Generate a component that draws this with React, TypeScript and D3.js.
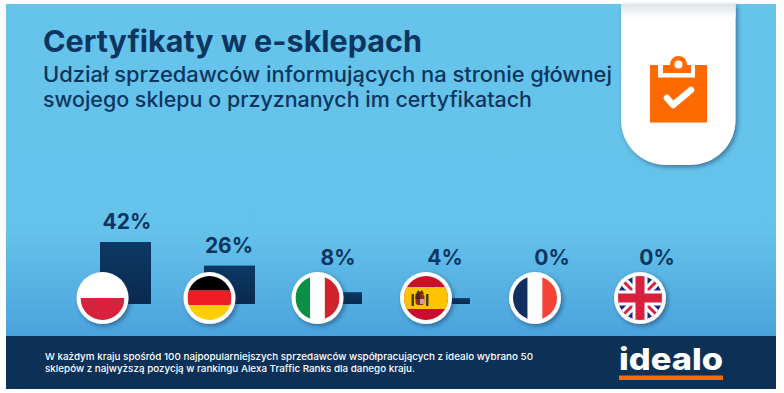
import React from "react";
import * as d3 from "d3";

const countries = ["Polska", "Niemcy", "Włochy", "Hiszpania", "Francja", "Wielka Brytania"];
const shares = [42, 26, 8, 4, 0, 0];
const valueLabels = ["42%", "26%", "8%", "4%", "0%", "0%"];
const title = "Certyfikaty w e-sklepach";
const subtitleLines = [
  "Udział sprzedawców informujących na stronie głównej",
  "swojego sklepu o przyznanych im certyfikatach",
];
const footnoteLines = [
  "W każdym kraju spośród 100 najpopularniejszych sprzedawców współpracujących z idealo wybrano 50",
  "sklepów z najwyższą pozycją w rankingu Alexa Traffic Ranks dla danego kraju.",
];
const brand = "idealo";

const NAVY = "#0c3660";
const FONT = "Inter, 'Open Sans', sans-serif";

const W = 784, H = 393;
const barBase = 304;
const barW = 51;
const R = 26;

const y = d3.scaleLinear().domain([0, 42]).range([barBase, 242]);
const barX = d3.scaleOrdinal<string, number>().domain(countries).range([100, 204, 311, 419, 523, 627]);
const flagX = d3.scaleOrdinal<string, number>().domain(countries).range([102.5, 209.5, 317.5, 426, 535, 640]);
const labelX = d3.scaleOrdinal<string, number>().domain(countries).range([127, 229, 338, 445, 552, 657]);
const flagY = 298;
const lowestLabelBaseline = 265;

function Flag({ name, cx }: { name: string; cx: number }) {
  const r = 22;
  const x0 = cx - r, y0 = flagY - r, s = r * 2;
  const id = "clip" + countries.indexOf(name);
  let content: React.ReactNode = null;
  if (name === "Polska") {
    content = (<>
      <rect x={x0} y={y0} width={s} height={s} fill="#ffffff" />
      <rect x={x0} y={flagY} width={s} height={r} fill="#d8213c" />
    </>);
  } else if (name === "Niemcy") {
    content = (<>
      <rect x={x0} y={y0} width={s} height={s / 3} fill="#000000" />
      <rect x={x0} y={y0 + s / 3} width={s} height={s / 3} fill="#ee1c25" />
      <rect x={x0} y={y0 + 2 * s / 3} width={s} height={s / 3} fill="#ffce00" />
    </>);
  } else if (name === "Włochy") {
    content = (<>
      <rect x={x0} y={y0} width={s / 3} height={s} fill="#0b8f47" />
      <rect x={x0 + s / 3} y={y0} width={s / 3} height={s} fill="#ffffff" />
      <rect x={x0 + 2 * s / 3} y={y0} width={s / 3} height={s} fill="#d2232c" />
    </>);
  } else if (name === "Hiszpania") {
    content = (<>
      <rect x={x0} y={y0} width={s} height={s} fill="#c8102e" />
      <rect x={x0} y={y0 + s / 4} width={s} height={s / 2} fill="#ffc400" />
      <g transform={`translate(${cx - 6},${flagY + 2})`}>
        <rect x={-4.5} y={-6} width={9} height={11} rx={3} fill="#8f2a22" />
        <rect x={-4.5} y={-6} width={4.5} height={5} fill="#4a2410" />
        <rect x={0} y={-1} width={4.5} height={5} fill="#c9a0a0" />
        <path d="M-4,-6 L-2,-10 L0,-8 L2,-10 L4,-6 Z" fill="#5a3010" />
        <rect x={-8.5} y={-6} width={2.5} height={12} fill="#4a3a1a" />
        <rect x={6} y={-6} width={2.5} height={12} fill="#4a3a1a" />
      </g>
    </>);
  } else if (name === "Francja") {
    content = (<>
      <rect x={x0} y={y0} width={s / 3} height={s} fill="#10305f" />
      <rect x={x0 + s / 3} y={y0} width={s / 3} height={s} fill="#ffffff" />
      <rect x={x0 + 2 * s / 3} y={y0} width={s / 3} height={s} fill="#f44336" />
    </>);
  } else {
    content = (<>
      <rect x={x0} y={y0} width={s} height={s} fill="#15288a" />
      <path d={`M${x0},${y0}L${x0 + s},${y0 + s}M${x0 + s},${y0}L${x0},${y0 + s}`} stroke="#ffffff" strokeWidth={9} />
      <path d={`M${x0},${y0}L${x0 + s},${y0 + s}M${x0 + s},${y0}L${x0},${y0 + s}`} stroke="#d8213c" strokeWidth={3} />
      <rect x={cx - 7.5} y={y0} width={15} height={s} fill="#ffffff" />
      <rect x={x0} y={flagY - 7.5} width={s} height={15} fill="#ffffff" />
      <rect x={cx - 4.5} y={y0} width={9} height={s} fill="#d8213c" />
      <rect x={x0} y={flagY - 4.5} width={s} height={9} fill="#d8213c" />
    </>);
  }
  return (
    <g>
      <clipPath id={id}><circle cx={cx} cy={flagY} r={r} /></clipPath>
      <circle cx={cx} cy={flagY} r={R} fill="#ffffff" filter="url(#dropShadow)" />
      <g clipPath={`url(#${id})`}>{content}</g>
    </g>
  );
}

export default function App() {
  const tab = d3.path();
  tab.moveTo(621, 4);
  tab.lineTo(735.5, 4);
  tab.lineTo(735.5, 120);
  tab.arcTo(735.5, 165, 690.5, 165, 45);
  tab.lineTo(666, 165);
  tab.arcTo(621, 165, 621, 120, 45);
  tab.closePath();

  return (
    <svg width={W} height={H} viewBox={`0 0 ${W} ${H}`} style={{ position: "absolute", left: 0, top: 0 }} fontFamily={FONT}>
      <defs>
        <linearGradient id="bg" x1="0" y1="0" x2="0" y2="1">
          <stop offset="0" stopColor="#66c3ea" />
          <stop offset="0.68" stopColor="#65c2ea" />
          <stop offset="1" stopColor="#4ba3dc" />
        </linearGradient>
        <linearGradient id="bar" x1="0" y1="0" x2="0" y2="1">
          <stop offset="0" stopColor="#0d3865" />
          <stop offset="1" stopColor="#0a2a4e" />
        </linearGradient>
        <linearGradient id="tabTop" x1="0" y1="0" x2="0" y2="1">
          <stop offset="0" stopColor="#dfe3e6" />
          <stop offset="1" stopColor="#ffffff" />
        </linearGradient>
        <filter id="dropShadow" x="-30%" y="-30%" width="170%" height="170%">
          <feDropShadow dx="2" dy="2" stdDeviation="2" floodColor="#0a2a4e" floodOpacity="0.5" />
        </filter>
      </defs>

      <rect x={6} y={4} width={770} height={332} fill="url(#bg)" />
      <rect x={6} y={336} width={770} height={53} fill="#0c3056" />

      <path d={tab.toString()} fill="#ffffff" filter="url(#dropShadow)" />
      <rect x={621} y={4} width={114.5} height={14} fill="url(#tabTop)" />

      <g>
        <rect x={650} y={65} width={57} height={57.5} fill="#ff6a00" />
        <rect x={658} y={65} width={37} height={12.5} fill="#ffffff" />
        <rect x={663} y={65} width={28} height={8} fill="#ff6a00" />
        <circle cx={678.5} cy={64.5} r={8.5} fill="#ff6a00" />
        <circle cx={678.5} cy={64.5} r={4} fill="#ffffff" />
        <path d="M667,98 L673,105 L691,90" fill="none" stroke="#ffffff" strokeWidth={6.5} strokeLinecap="round" strokeLinejoin="round" />
      </g>

      <text x={43} y={52} fontSize={30} fontWeight={700} fill={NAVY} textLength={379} lengthAdjust="spacingAndGlyphs">{title}</text>
      <text x={43} y={82} fontSize={21} fontWeight={500} fill={NAVY} textLength={569} lengthAdjust="spacingAndGlyphs">{subtitleLines[0]}</text>
      <text x={43} y={107} fontSize={21} fontWeight={500} fill={NAVY} textLength={489} lengthAdjust="spacingAndGlyphs">{subtitleLines[1]}</text>

      {countries.map((c, i) => shares[i] > 0 && (
        <rect key={c} x={barX(c)} y={y(shares[i])} width={barW} height={barBase - y(shares[i])} fill="url(#bar)" />
      ))}
      {countries.map((c) => <Flag key={c} name={c} cx={flagX(c)} />)}
      {countries.map((c, i) => (
        <text key={c} x={labelX(c)} y={Math.min(y(shares[i]) - 13, lowestLabelBaseline)} textAnchor="middle" fontSize={21} fontWeight={700} fill={NAVY}>{valueLabels[i]}</text>
      ))}

      <text x={45} y={360} fontSize={9.5} fontWeight={500} fill="#ffffff" textLength={488} lengthAdjust="spacingAndGlyphs">{footnoteLines[0]}</text>
      <text x={45} y={372} fontSize={9.5} fontWeight={500} fill="#ffffff" textLength={370} lengthAdjust="spacingAndGlyphs">{footnoteLines[1]}</text>

      <text x={619} y={369.5} fontSize={30} fontWeight={800} fill="#ffffff" textLength={104} lengthAdjust="spacingAndGlyphs">{brand}</text>
      <rect x={619} y={375.5} width={104} height={4.5} fill="#ff6a00" />
    </svg>
  );
}
